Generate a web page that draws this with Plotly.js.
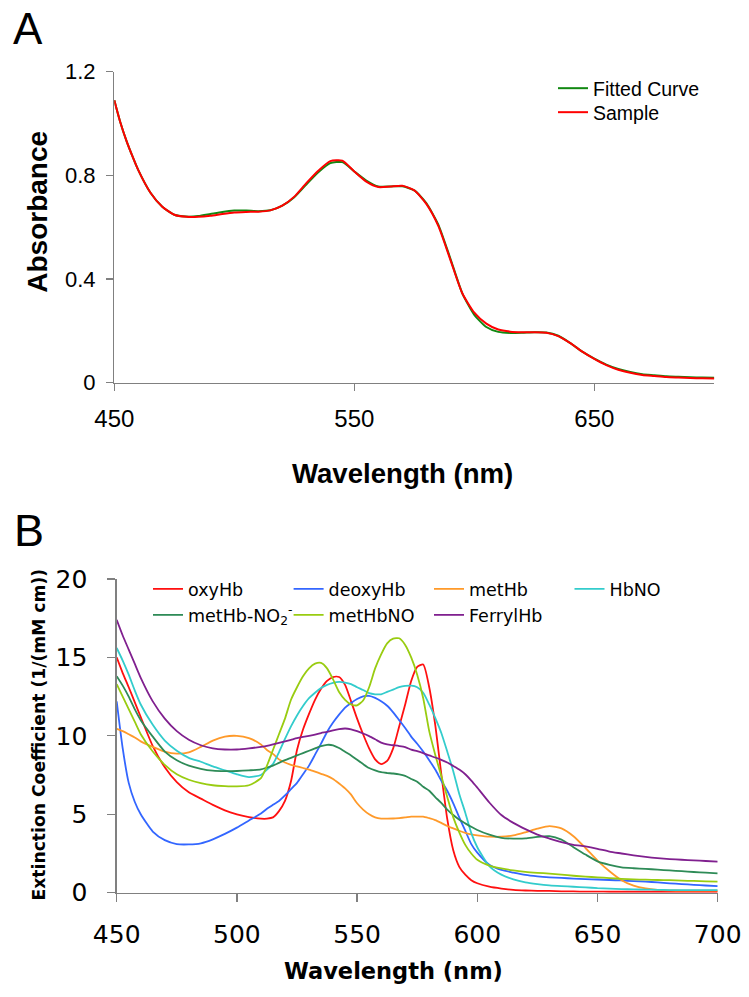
<!DOCTYPE html>
<html>
<head>
<meta charset="utf-8">
<script src="https://cdn.plot.ly/plotly-3.0.1.min.js"></script>
<style>html,body{margin:0;padding:0;background:#fff;}#chart{width:749px;height:997px;}</style>
</head>
<body>
<div id="chart"></div>
<script>
// ---------- Panel A data ----------
const wavelengthA = [450,452.5,455,457.5,460,465,470,475,480,485,490,495,500,505,510,515,520,525,530,535,540,545,550,555,560,565,570,575,580,585,590,595,600,605,610,615,620,625,630,635,640,645,650,655,660,665,670,675,680,685,690,695,700];
const sampleA = [1.09,1.005,0.935,0.875,0.82,0.734,0.679,0.648,0.64,0.64,0.644,0.651,0.657,0.659,0.66,0.665,0.683,0.718,0.77,0.818,0.855,0.857,0.815,0.776,0.755,0.757,0.76,0.742,0.69,0.605,0.475,0.345,0.27,0.228,0.205,0.197,0.195,0.195,0.193,0.18,0.153,0.12,0.092,0.068,0.05,0.038,0.03,0.026,0.022,0.02,0.018,0.017,0.016];
const fittedA = [1.09,1.005,0.935,0.875,0.82,0.734,0.679,0.648,0.641,0.643,0.651,0.659,0.664,0.664,0.662,0.665,0.683,0.716,0.765,0.812,0.847,0.851,0.815,0.78,0.757,0.757,0.758,0.742,0.693,0.61,0.48,0.345,0.262,0.215,0.196,0.192,0.193,0.195,0.194,0.181,0.153,0.12,0.093,0.07,0.053,0.041,0.033,0.029,0.025,0.023,0.021,0.02,0.019];

// ---------- Panel B data ----------
const wavelengthB = [450,452.5,455,457.5,460,465,470,475,480,485,490,495,500,505,510,512.5,515,517.5,520,522.5,525,527.5,530,532.5,535,537.5,540,542.5,545,547.5,550,552.5,555,557.5,560,562.5,565,567.5,570,572.5,575,577.5,580,582.5,585,587.5,590,592.5,595,597.5,600,605,610,615,620,625,630,635,640,645,650,655,660,665,670,675,680,685,690,695,700];
const oxyHb = [15.0,14.0,13.1,12.15,11.2,9.35,8.0,7.05,6.4,6.0,5.6,5.25,5.0,4.82,4.72,4.72,4.8,5.2,5.85,7.1,9.1,10.4,11.4,12.3,13.0,13.5,13.75,13.75,13.25,12.2,11.1,10.1,9.2,8.5,8.2,8.4,9.2,10.6,12.0,13.5,14.4,14.55,13.1,10.7,7.6,4.7,2.7,1.65,1.15,0.8,0.6,0.38,0.26,0.18,0.14,0.12,0.11,0.09,0.08,0.07,0.07,0.06,0.06,0.06,0.06,0.06,0.05,0.05,0.05,0.05,0.05];
const deoxyHb = [12.2,9.2,7.0,5.8,5.0,3.9,3.35,3.1,3.08,3.15,3.4,3.75,4.15,4.6,5.05,5.35,5.6,5.85,6.2,6.6,7.0,7.55,8.1,8.8,9.5,10.25,10.85,11.35,11.8,12.1,12.35,12.52,12.55,12.42,12.2,11.92,11.5,11.0,10.5,9.95,9.5,9.0,8.45,7.85,7.15,6.5,5.7,4.8,3.95,3.1,2.55,1.78,1.45,1.28,1.13,1.04,0.98,0.94,0.9,0.87,0.84,0.81,0.78,0.74,0.7,0.66,0.6,0.55,0.5,0.46,0.42];
const metHb = [10.45,10.3,10.1,9.9,9.65,9.3,9.0,8.87,8.95,9.3,9.7,9.95,10.0,9.85,9.45,9.1,8.85,8.5,8.3,8.15,8.05,7.95,7.85,7.72,7.58,7.45,7.25,6.96,6.65,6.25,5.7,5.3,5.0,4.8,4.72,4.72,4.73,4.76,4.8,4.85,4.85,4.85,4.75,4.63,4.45,4.25,4.1,3.95,3.82,3.72,3.66,3.57,3.57,3.65,3.85,4.08,4.25,4.1,3.6,2.85,2.05,1.37,0.8,0.45,0.27,0.18,0.15,0.13,0.13,0.13,0.13];
const HbNO = [15.6,14.8,13.9,12.9,12.0,10.7,9.7,9.05,8.6,8.35,8.05,7.8,7.55,7.37,7.5,7.85,8.2,8.95,9.8,10.6,11.3,11.9,12.4,12.75,13.05,13.25,13.38,13.44,13.4,13.3,13.1,12.92,12.72,12.65,12.65,12.8,12.95,13.1,13.18,13.2,13.1,12.75,12.0,11.15,10.2,9.0,7.75,6.3,5.1,3.8,2.9,1.7,1.15,0.85,0.66,0.55,0.47,0.42,0.38,0.34,0.29,0.26,0.23,0.21,0.2,0.18,0.17,0.17,0.17,0.17,0.17];
const metHbNO2 = [13.8,13.2,12.5,11.7,11.0,9.95,9.0,8.45,8.1,7.9,7.78,7.75,7.76,7.8,7.86,7.98,8.1,8.28,8.45,8.6,8.75,8.9,9.05,9.2,9.35,9.43,9.4,9.22,8.98,8.75,8.47,8.2,7.95,7.8,7.68,7.63,7.6,7.55,7.45,7.25,7.08,6.75,6.5,6.1,5.72,5.3,4.95,4.65,4.42,4.2,4.0,3.7,3.5,3.45,3.46,3.56,3.6,3.38,2.9,2.43,2.0,1.78,1.62,1.56,1.52,1.47,1.42,1.37,1.32,1.28,1.23];
const metHbNO = [13.3,12.5,11.7,10.9,10.1,9.0,8.15,7.55,7.2,6.98,6.85,6.8,6.78,6.85,7.3,8.1,9.1,10.1,11.1,12.3,13.1,13.8,14.3,14.6,14.65,14.3,13.6,12.8,12.3,12.0,11.95,12.25,13.1,14.3,15.2,15.9,16.2,16.22,15.8,15.0,13.9,12.4,10.3,8.8,7.45,6.1,4.8,3.85,3.05,2.5,2.1,1.73,1.55,1.42,1.33,1.27,1.22,1.15,1.08,1.02,0.98,0.93,0.88,0.85,0.83,0.81,0.8,0.77,0.75,0.72,0.7];
const FerrylHb = [17.4,16.4,15.5,14.6,13.7,12.2,11.1,10.3,9.75,9.4,9.2,9.13,9.13,9.2,9.3,9.36,9.45,9.55,9.65,9.75,9.85,9.93,10.0,10.08,10.18,10.25,10.35,10.43,10.47,10.42,10.3,10.15,9.98,9.78,9.57,9.45,9.4,9.35,9.28,9.12,9.02,8.9,8.75,8.62,8.47,8.3,8.08,7.85,7.55,7.15,6.7,5.75,4.95,4.45,4.05,3.7,3.45,3.22,3.05,2.95,2.8,2.62,2.5,2.38,2.28,2.2,2.14,2.1,2.06,2.02,1.98];

const seriesNamesB = ['oxyHb','deoxyHb','metHb','HbNO','metHb-NO<sub>2</sub><sup>-</sup>','metHbNO','FerrylHb'];
const seriesB = [oxyHb, deoxyHb, metHb, HbNO, metHbNO2, metHbNO, FerrylHb];
const colorsB = ['#ff1010','#3366ff','#ff9a2a','#33cccc','#2e8b57','#99cc11','#80208f'];

const W = 749, H = 997;
const px = v => v / W;
const py = v => 1 - v / H;

const fontA = 'Liberation Sans, Arial, sans-serif';
const fontB = 'DejaVu Sans, Verdana, sans-serif';

// legend placement (left edge / top edge in pixels) for each entry
const legendSpotsA = [[553, 69], [553, 93]];
const legendSpotsB = [[148, 571], [288.6, 571], [429, 571], [569.5, 571], [148, 597], [288.6, 597], [429, 597]];

const traces = [
  {x: wavelengthA, y: fittedA, name: 'Fitted Curve', type: 'scatter', mode: 'lines',
   line: {color: '#118811', width: 2, shape: 'spline', smoothing: 0.6}, xaxis: 'x', yaxis: 'y', legend: 'legend'},
  {x: wavelengthA, y: sampleA, name: 'Sample', type: 'scatter', mode: 'lines',
   line: {color: '#ff0000', width: 2, shape: 'spline', smoothing: 0.6}, xaxis: 'x', yaxis: 'y', legend: 'legend2'}
];
seriesB.forEach((s, i) => {
  traces.push({x: wavelengthB, y: s, name: seriesNamesB[i], type: 'scatter', mode: 'lines',
    line: {color: colorsB[i], width: 1.8, shape: 'spline', smoothing: 0.6},
    xaxis: 'x2', yaxis: 'y2', legend: 'legend' + (i + 3)});
});

const axisCommon = {showline: true, linecolor: '#808080', linewidth: 1.3, ticks: 'outside',
  tickcolor: '#808080', tickwidth: 1.3, showgrid: false, zeroline: false, fixedrange: true, automargin: false};

const layout = {
  width: W, height: H, margin: {l: 0, r: 0, t: 0, b: 0, autoexpand: false},
  paper_bgcolor: '#fff', plot_bgcolor: '#fff', showlegend: true,
  xaxis: Object.assign({}, axisCommon, {domain: [px(114.3), px(714.3)], range: [450, 700], anchor: 'y',
    tick0: 450, dtick: 100, ticklen: 7, ticklabelstandoff: 7, tickfont: {family: fontA, size: 24, color: '#000'}}),
  yaxis: Object.assign({}, axisCommon, {domain: [py(382.7), py(71.7)], range: [0, 1.2], anchor: 'x',
    dtick: 0.4, ticklen: 7, ticklabelstandoff: 6, tickfont: {family: fontA, size: 22, color: '#000'}}),
  xaxis2: Object.assign({}, axisCommon, {domain: [px(116.7), px(717.7)], range: [450, 700], anchor: 'y2',
    tick0: 450, dtick: 50, ticklen: 8, ticklabelstandoff: 11, tickfont: {family: fontB, size: 25, color: '#000'}}),
  yaxis2: Object.assign({}, axisCommon, {domain: [py(892.7), py(579)], range: [0, 20], anchor: 'x2',
    dtick: 5, ticklen: 8, ticklabelstandoff: 15, tickfont: {family: fontB, size: 25, color: '#000'}}),
  annotations: [
    {text: 'A', xref: 'paper', yref: 'paper', x: px(11), y: py(29), xanchor: 'left', yanchor: 'middle',
     showarrow: false, font: {family: fontA, size: 44, color: '#000'}},
    {text: 'B', xref: 'paper', yref: 'paper', x: px(12), y: py(530), xanchor: 'left', yanchor: 'middle',
     showarrow: false, font: {family: fontA, size: 45, color: '#000'}},
    {text: 'Absorbance', xref: 'paper', yref: 'paper', x: px(38), y: py(211.7), xanchor: 'center', yanchor: 'middle',
     textangle: -90, showarrow: false, font: {family: fontA, size: 28, color: '#000', weight: 'bold'}},
    {text: 'Wavelength (nm)', xref: 'paper', yref: 'paper', x: px(402.4), y: py(473), xanchor: 'center', yanchor: 'middle',
     showarrow: false, font: {family: fontA, size: 27.6, color: '#000', weight: 'bold'}},
    {text: 'Extinction Coefficient (1/(mM cm))', xref: 'paper', yref: 'paper', x: px(38), y: py(734.5), xanchor: 'center', yanchor: 'middle',
     textangle: -90, showarrow: false, font: {family: fontB, size: 17.2, color: '#000', weight: 'bold'}},
    {text: 'Wavelength (nm)', xref: 'paper', yref: 'paper', x: px(393.6), y: py(971), xanchor: 'center', yanchor: 'middle',
     showarrow: false, font: {family: fontB, size: 22.5, color: '#000', weight: 'bold'}}
  ]
};

function legendAt(spot, font) {
  return {xref: 'container', yref: 'container', x: spot[0] / W, y: 1 - spot[1] / H,
    xanchor: 'left', yanchor: 'top', bgcolor: 'rgba(0,0,0,0)', borderwidth: 0, font: font};
}
layout.legend = legendAt(legendSpotsA[0], {family: fontA, size: 19.5, color: '#000'});
layout.legend2 = legendAt(legendSpotsA[1], {family: fontA, size: 19.5, color: '#000'});
legendSpotsB.forEach((s, i) => {
  layout['legend' + (i + 3)] = legendAt(s, {family: fontB, size: 17.5, color: '#000'});
});

Plotly.newPlot('chart', traces, layout, {displayModeBar: false, staticPlot: true});
</script>
</body>
</html>
